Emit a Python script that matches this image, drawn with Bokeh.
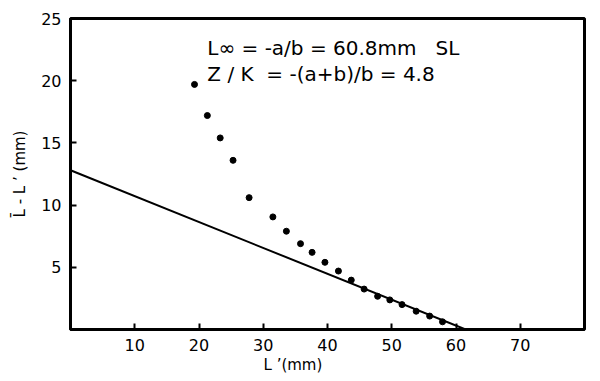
from bokeh.plotting import figure
from bokeh.models import FixedTicker, Range1d, Title
from bokeh.core.properties import value
from bokeh.embed import file_html
from bokeh.resources import INLINE

# data
pts_x = [19.3, 21.3, 23.3, 25.3, 27.8, 31.5, 33.6, 35.8, 37.6, 39.6,
         41.7, 43.7, 45.7, 47.8, 49.7, 51.6, 53.8, 55.9, 57.9]
pts_y = [19.7, 17.2, 15.4, 13.6, 10.6, 9.05, 7.9, 6.9, 6.2, 5.4,
         4.7, 3.97, 3.25, 2.67, 2.38, 2.0, 1.47, 1.08, 0.62]
line_x = [0.0, 61.5]
line_y = [12.8, 0.0]
x_ticks = [10, 20, 30, 40, 50, 60, 70]
y_ticks = [5, 10, 15, 20, 25]
ann_lines = ["L\u221e = -a/b = 60.8mm\u00a0\u00a0\u00a0SL",
             "Z / K\u00a0\u00a0= -(a+b)/b = 4.8"]
ann_x = [21.3, 21.3]
ann_y = [22.65, 20.5]

FONT = "DejaVu Sans"

p = figure(width=592, height=373, output_backend="svg", toolbar_location=None,
           x_range=Range1d(0, 80), y_range=Range1d(0, 25),
           min_border_left=70, min_border_right=8, min_border_top=18,
           min_border_bottom=41)
p.grid.visible = False
p.outline_line_color = "black"
p.outline_line_width = 3
p.background_fill_color = "white"
p.border_fill_color = "white"

for ax in (p.xaxis, p.yaxis):
    ax.axis_line_width = 3
    ax.axis_line_color = "black"
    ax.major_tick_in = 6
    ax.major_tick_out = 0
    ax.major_tick_line_width = 2
    ax.major_tick_line_color = "black"
    ax.minor_tick_line_color = None
    ax.major_label_text_font = FONT
    ax.major_label_text_font_size = "16px"
    ax.major_label_text_color = "black"
    ax.axis_label_text_font = FONT
    ax.axis_label_text_font_size = "15px"
    ax.axis_label_text_font_style = "normal"
    ax.axis_label_text_color = "black"

p.xaxis.ticker = FixedTicker(ticks=x_ticks)
p.yaxis.ticker = FixedTicker(ticks=y_ticks)
p.xaxis.major_label_standoff = 9
p.yaxis.major_label_standoff = 9
p.yaxis.axis_label = "L\u0304 - L \u2019 (mm)"
p.yaxis.axis_label_standoff = 9

p.line(line_x, line_y, line_color="black", line_width=2)
p.scatter(pts_x, pts_y, size=6, color="black")

p.text(x=ann_x, y=ann_y, text=ann_lines, text_font=value(FONT),
       text_font_size="20px", text_baseline="middle", text_align="left",
       text_color="black")

xt = Title(text="L \u2019(mm)", align="left", offset=193,
           text_font=FONT, text_font_size="15px", text_font_style="normal",
           text_color="black", standoff=0)
p.add_layout(xt, "below")

open("out.html", "w").write(file_html(p, INLINE))
